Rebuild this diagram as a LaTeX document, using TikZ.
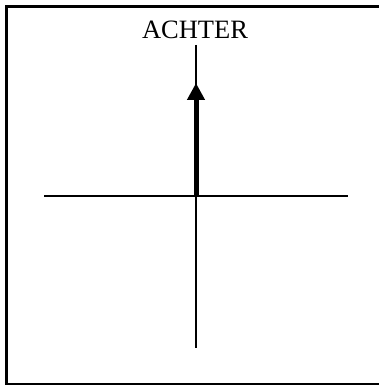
\documentclass[tikz,border=0pt]{standalone}
\usepackage{fontspec}
\setmainfont{Liberation Serif}
\usetikzlibrary{arrows.meta}
\tikzset{
  axis line/.style={line width=2pt},
  heading arrow/.style={line width=5pt,-{Triangle[length=17pt,width=17pt]}},
}

\begin{document}
\begin{tikzpicture}[x=1pt,y=-1pt]
	\useasboundingbox (0,0) rectangle (379,385);
	\draw[line width=2.5pt] (379,6.5)--(6.5,6.5)--(6.5,383.8)--(379,383.8);
	
	\coordinate (O) at (196,197);
	\coordinate (L) at (44,196);
	\coordinate (R) at (348,196);
	\coordinate (T) at (196,45);
	\coordinate (B) at (196,348);
	\coordinate (P) at (196,83);
	
	\draw[axis line] (L)--(R);
	\draw[axis line] (T)--(B);
	\draw[heading arrow] (O)--(P);
	
	\node[anchor=base,inner sep=0pt,font=\fontsize{26.5}{30}\selectfont] (achter) at (195,39) {ACHTER};
\end{tikzpicture}
\end{document}
